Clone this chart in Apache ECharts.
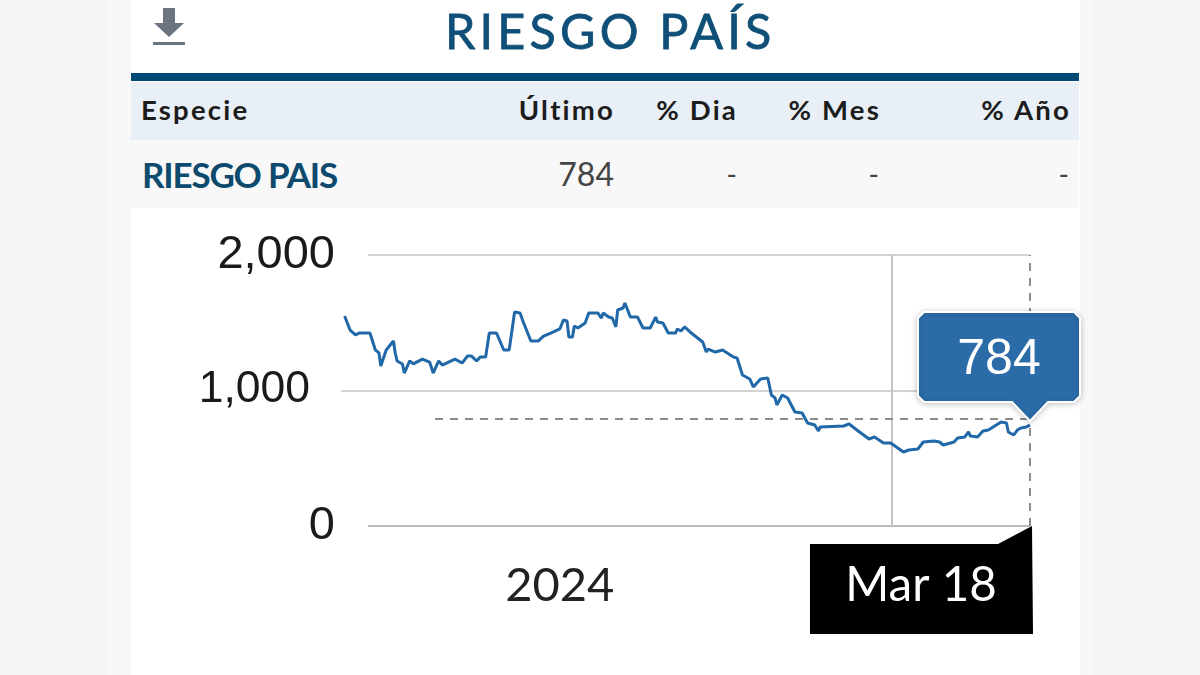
<!DOCTYPE html>
<html><head><meta charset="utf-8">
<script src="https://cdn.jsdelivr.net/npm/echarts@6/dist/echarts.min.js"></script>
<style>
html,body{margin:0;padding:0;width:1200px;height:675px;overflow:hidden;background:#f4f4f4;font-family:Lato,sans-serif}
.b{position:absolute}
.t{position:absolute;white-space:nowrap;line-height:1}
.h{font-weight:700;font-size:27.5px;letter-spacing:2.2px;color:#1c1c1c;top:96px}
.d{font-size:28px;color:#444;top:160px}
#c{position:absolute;left:0;top:0;width:1200px;height:675px}
</style></head><body>
<div class="b" style="left:108px;top:0;width:984px;height:675px;background:#f8f8f8"></div>
<div class="b" style="left:131px;top:0;width:949px;height:675px;background:#fff"></div>
<div class="b" style="left:131px;top:73px;width:948px;height:8px;background:#004a75"></div>
<div class="b" style="left:131px;top:82px;width:948px;height:58px;background:#e8eff6"></div>
<div class="b" style="left:131px;top:140px;width:948px;height:68px;background:#f8f8f8"></div>
<svg class="b" style="left:150px;top:6px" width="38" height="42" viewBox="0 0 38 42"><path d="M13 2h12v15h9L19 31 4 17h9z" fill="#6c7480"/><rect x="3" y="36" width="32" height="3" fill="#6c7480"/></svg>
<div class="t" style="left:445px;top:6px;font-size:48.5px;letter-spacing:4.2px;color:#0f4f78;-webkit-text-stroke:0.8px #0f4f78">RIESGO PAÍS</div>
<div class="t h" style="left:141px">Especie</div>
<div class="t h" style="right:585px">Último</div>
<div class="t h" style="right:462px">% Dia</div>
<div class="t h" style="right:319px">% Mes</div>
<div class="t h" style="right:129px">% Año</div>
<div class="t" style="left:142px;top:157px;font-size:35px;font-weight:700;letter-spacing:-1.2px;color:#0d4a6e">RIESGO PAIS</div>
<div class="t" style="right:586px;top:158px;font-size:32px;color:#444">784</div>
<div class="t d" style="right:463px">-</div>
<div class="t d" style="right:321px">-</div>
<div class="t d" style="right:131px">-</div>
<div id="c"></div>
<script>
var days = [0,3,6,8,14,17,19,20,23,27,28,29,32,33,36,38,43,47,49,52,54,61,65,68,70,73,75,78,80,84,88,91,94,97,99,103,107,110,114,115,119,121,123,124,126,127,129,133,135,140,142,143,146,148,150,151,154,155,158,162,165,169,172,173,176,179,183,184,186,188,191,198,200,201,205,209,215,217,220,224,226,230,234,236,238,239,242,245,249,253,256,260,262,263,276,279,284,290,293,298,302,309,312,317,320,326,329,331,337,339,343,345,346,350,353,356,363,366,367,370,372,374,377,379];
var values = [1550,1446,1410,1424,1424,1299,1277,1181,1299,1365,1277,1218,1196,1129,1218,1196,1232,1210,1129,1218,1188,1232,1203,1255,1255,1218,1247,1247,1424,1424,1299,1299,1579,1572,1498,1365,1365,1402,1424,1424,1454,1520,1513,1395,1395,1476,1461,1498,1572,1572,1535,1572,1542,1535,1469,1594,1609,1646,1542,1542,1461,1461,1542,1506,1498,1424,1424,1454,1439,1469,1432,1358,1284,1306,1284,1299,1247,1240,1114,1085,1026,1085,1092,967,945,893,967,945,841,834,760,745,701,731,738,753,701,642,657,613,613,546,561,568,620,627,620,598,620,649,657,694,664,657,701,708,768,760,694,672,708,723,731,745];
var yTicks = [0,1000,2000];
var lastValueLabel = '784';
var lastDateLabel = 'Mar 18';
var yearLabel = '2024';
var yearLabelDay = 119;
var yearLineDay = 302.5;
var dashValue = 795;
var dashStartDay = 50;
var lastDay = 379;
var lineStartDay = 13;

var chart = echarts.init(document.getElementById('c'), null, {renderer:'canvas'});
var grey = {color:'#d2d2d2', width:2, type:'solid'};
var dash = {color:'#8c8c8c', width:2, type:[8,7]};
function seg(a,b,style){return [{coord:a,lineStyle:style},{coord:b}];}
chart.setOption({
  animation:false,
  backgroundColor:'transparent',
  grid:{left:341,top:255,width:689,height:271,containLabel:false},
  xAxis:{type:'value',min:-2,max:lastDay,axisLine:{show:false},axisTick:{show:false},splitLine:{show:false},
    axisLabel:{customValues:[yearLabelDay],formatter:function(){return yearLabel;},margin:36,fontFamily:'Lato',fontSize:47,color:'#222',hideOverlap:false,showMinLabel:true,showMaxLabel:true}},
  yAxis:{type:'value',min:yTicks[0],max:yTicks[2],interval:1000,axisLine:{show:false},axisTick:{show:false},splitLine:{show:false},
    axisLabel:{margin:6,fontFamily:'Liberation Sans',fontSize:47,color:'#1a1a1a',
      formatter:function(v){return v===yTicks[1] ? '{m|'+v.toLocaleString('en-US')+'}' : v.toLocaleString('en-US');},
      rich:{m:{fontFamily:'Liberation Sans',fontSize:44.5,color:'#1a1a1a',padding:[0,25,2,0]}}}},
  series:[{type:'line',data:days.map(function(d,i){return [d,values[i]];}),showSymbol:false,symbol:'none',
    lineStyle:{color:'#2068a8',width:3},z:5,
    markLine:{silent:true,symbol:'none',label:{show:false},z:1,data:[
      seg([lineStartDay,yTicks[2]],[lastDay,yTicks[2]],grey),
      seg([-2,yTicks[1]],[lastDay,yTicks[1]],grey),
      seg([lineStartDay,yTicks[0]],[lastDay,yTicks[0]],{color:'#bdbdbd',width:2,type:'solid'}),
      seg([yearLineDay,yTicks[0]],[yearLineDay,yTicks[2]],{color:'#c4c4c4',width:2,type:'solid'}),
      seg([lastDay,yTicks[0]],[lastDay,yTicks[2]],dash),
      seg([dashStartDay,dashValue],[lastDay,dashValue],dash)
    ]}
  }],
  graphic:[
    {type:'group',z:100,zlevel:5,children:[
      {type:'polygon',zlevel:5,shape:{points:[[924,312],[1074,312],[1080,318],[1080,396],[1074,402],[1048,402],[1030,421],[1012,402],[924,402],[918,396],[918,318]]},
       style:{fill:'#2b6ca8',stroke:'#fff',lineWidth:2,shadowBlur:6,shadowColor:'rgba(0,0,0,0.22)',shadowOffsetY:1}},
      {type:'text',zlevel:5,style:{x:999,y:360,text:lastValueLabel,align:'center',verticalAlign:'middle',fontFamily:'Liberation Sans',fontSize:50,fill:'#fff'}},
      {type:'polygon',zlevel:5,shape:{points:[[810,544],[998,544],[1032,526],[1033,634],[810,634]]},style:{fill:'#000'}},
      {type:'text',zlevel:5,style:{x:921,y:586,text:lastDateLabel,align:'center',verticalAlign:'middle',fontFamily:'Lato',fontSize:47.5,fill:'#fff'}}
    ]}
  ]
});
</script>
</body></html>
